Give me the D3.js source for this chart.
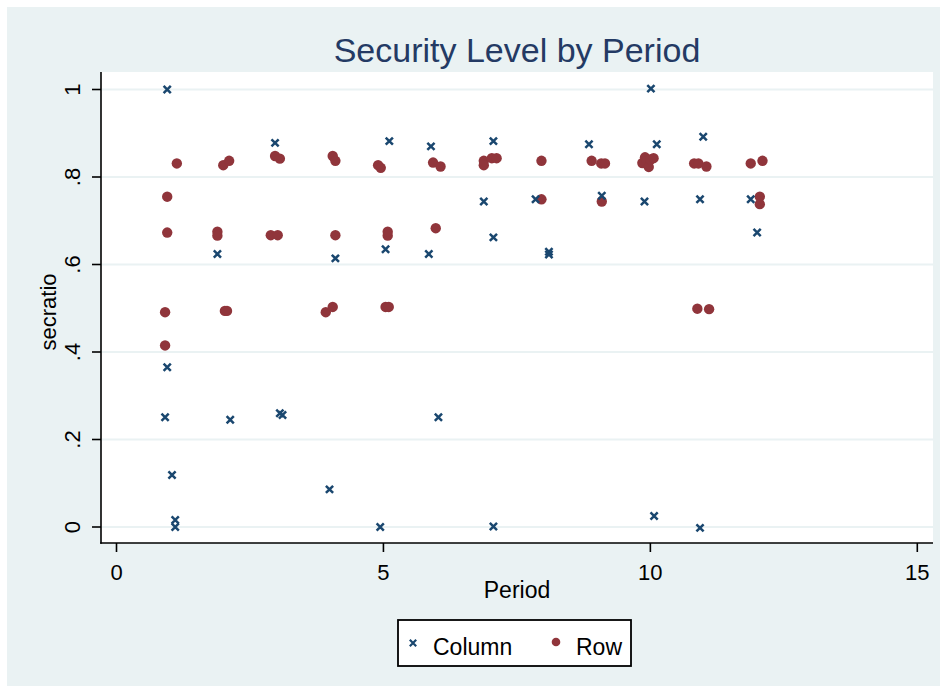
<!DOCTYPE html>
<html><head><meta charset="utf-8">
<script src="https://cdn.jsdelivr.net/npm/d3@7"></script>
<style>body{margin:0;background:#fff}svg{display:block}text{font-family:"Liberation Sans",Arial,sans-serif}</style>
</head><body><svg id="c" width="945" height="692"></svg>
<script>
const title = "Security Level by Period";
const xTicks = [0, 5, 10, 15];
const yTicks = [0, 0.2, 0.4, 0.6, 0.8, 1];
const yTickLabels = ["0", ".2", ".4", ".6", ".8", "1"];
const seriesNames = ["Column", "Row"];
// Column (jittered period, secratio)
const colPeriod = [0.95,1.04,1.10,1.10,0.95,0.91, 2.97,1.89,2.13, 3.06,3.11, 4.10,3.99,4.94, 5.11,5.04, 5.89,5.85,6.03, 7.06,6.88,7.06,7.06, 7.85,8.10,8.10, 8.85,9.09, 10.01,10.12,9.89,10.07, 10.99,10.93,10.93, 11.88,12.00];
const colValue  = [1.00,0.119,0.016,0.000,0.365,0.251, 0.878,0.624,0.245, 0.260,0.256, 0.614,0.086,0.000, 0.882,0.635, 0.870,0.624,0.251, 0.882,0.744,0.662,0.001, 0.749,0.629,0.623, 0.875,0.757, 1.002,0.875,0.744,0.025, 0.892,0.749,-0.002, 0.749,0.673];
// Row (jittered period, secratio)
const rowPeriod = [1.13,0.95,0.95,0.91,0.91, 2.00,2.11,1.89,1.89,2.03,2.07, 2.97,3.06,2.89,3.02, 4.05,4.10,4.10,3.92,4.05, 4.90,4.95,5.08,5.08,5.04,5.10, 5.93,6.07,5.98, 6.88,6.88,7.03,7.12, 7.96,7.96, 8.90,9.08,9.15,9.09, 9.85,9.90,9.93,9.97,10.00,10.06, 10.82,10.90,11.05,10.88,11.10, 11.88,12.10,12.05,12.05];
const rowValue  = [0.831,0.755,0.673,0.491,0.415, 0.827,0.837,0.675,0.666,0.494,0.494, 0.848,0.842,0.667,0.667, 0.848,0.837,0.667,0.491,0.503, 0.827,0.821,0.666,0.675,0.503,0.503, 0.833,0.824,0.683, 0.837,0.827,0.843,0.843, 0.837,0.749, 0.837,0.831,0.831,0.744, 0.832,0.845,0.838,0.823,0.840,0.843, 0.831,0.831,0.824,0.499,0.498, 0.831,0.837,0.755,0.738];

const navy = "#1a476f", maroon = "#90353b", bg = "#eaf2f3";
const svg = d3.select("#c");
svg.append("rect").attr("x",7).attr("y",7).attr("width",933).attr("height",679).attr("fill",bg);

const pl = {l:101, r:933, t:72, b:543};
svg.append("rect").attr("x",pl.l).attr("y",pl.t).attr("width",pl.r-pl.l).attr("height",pl.b-pl.t).attr("fill","#fff");

const x = d3.scaleLinear().domain([0,15]).range([116.5,917.3]);
const y = d3.scaleLinear().domain([0,1]).range([527,89.5]);

// gridlines
svg.append("g").selectAll("line").data(yTicks).join("line")
  .attr("x1",pl.l).attr("x2",pl.r).attr("y1",d=>y(d)).attr("y2",d=>y(d))
  .attr("stroke",bg).attr("stroke-width",2);

// points: Row circles
svg.append("g").selectAll("circle").data(d3.range(rowPeriod.length)).join("circle")
  .attr("cx",i=>x(rowPeriod[i])).attr("cy",i=>y(rowValue[i])).attr("r",5.2)
  .attr("fill",maroon);
// Column x markers
const xs = 3.6;
const cg = svg.append("g").attr("stroke",navy).attr("stroke-width",2.5);
d3.range(colPeriod.length).forEach(i=>{
  const cx = x(colPeriod[i]), cy = y(colValue[i]);
  cg.append("path").attr("d",`M${cx-xs},${cy-xs}L${cx+xs},${cy+xs}M${cx-xs},${cy+xs}L${cx+xs},${cy-xs}`);
});

// axes
const ax = svg.append("g").attr("stroke","#000").attr("stroke-width",1.6);
ax.append("line").attr("x1",pl.l).attr("x2",pl.l).attr("y1",pl.t).attr("y2",pl.b+0.8);
ax.append("line").attr("x1",pl.l-0.8).attr("x2",pl.r).attr("y1",pl.b).attr("y2",pl.b);
ax.selectAll(".yt").data(yTicks).join("line").attr("class","yt")
  .attr("x1",pl.l-9).attr("x2",pl.l).attr("y1",d=>y(d)).attr("y2",d=>y(d));
ax.selectAll(".xt").data(xTicks).join("line").attr("class","xt")
  .attr("x1",d=>x(d)).attr("x2",d=>x(d)).attr("y1",pl.b).attr("y2",pl.b+9);

svg.append("g").selectAll("text").data(xTicks).join("text")
  .attr("x",d=>x(d)).attr("y",580).attr("text-anchor","middle")
  .attr("font-size",22).attr("fill","#000").text(d=>d);
svg.append("g").selectAll("text").data(yTicks).join("text")
  .attr("transform",(d,i)=>`translate(80,${y(d)}) rotate(-90)`).attr("text-anchor","middle")
  .attr("font-size",22).attr("fill","#000").text((d,i)=>yTickLabels[i]);

svg.append("text").attr("x",517).attr("y",598).attr("text-anchor","middle")
  .attr("font-size",23).attr("fill","#000").text("Period");
svg.append("text").attr("transform","translate(56,312) rotate(-90)").attr("text-anchor","middle")
  .attr("font-size",22).attr("fill","#000").text("secratio");

svg.append("text").attr("x",517).attr("y",62).attr("text-anchor","middle")
  .attr("font-size",34).attr("fill","#243a64").text(title);

// legend
svg.append("rect").attr("x",398).attr("y",620).attr("width",233).attr("height",46)
  .attr("fill","#fff").attr("stroke","#000").attr("stroke-width",1.8);
const ls = 3.2, lx = 413, ly = 643;
svg.append("path").attr("d",`M${lx-ls},${ly-ls}L${lx+ls},${ly+ls}M${lx-ls},${ly+ls}L${lx+ls},${ly-ls}`)
  .attr("stroke",navy).attr("stroke-width",2.2);
svg.append("text").attr("x",433).attr("y",655).attr("font-size",23).text(seriesNames[0]);
svg.append("circle").attr("cx",556).attr("cy",642).attr("r",4.3).attr("fill",maroon);
svg.append("text").attr("x",576).attr("y",655).attr("font-size",23).text(seriesNames[1]);
</script></body></html>
